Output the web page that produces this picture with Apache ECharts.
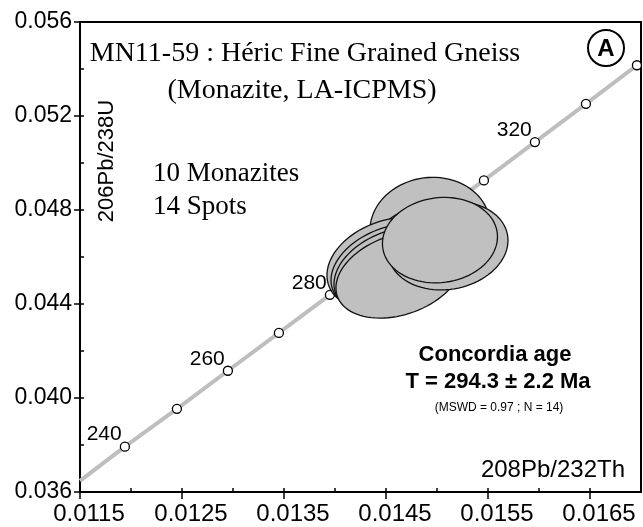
<!DOCTYPE html>
<html>
<head>
<meta charset="utf-8">
<title>Concordia</title>
<script src="https://cdn.jsdelivr.net/npm/echarts@6.0.0/dist/echarts.min.js"></script>
<style>
  html, body { margin: 0; padding: 0; background: #fff; }
  #chart { width: 643px; height: 527px; }
</style>
</head>
<body>
<div id="chart"></div>
<script>
// concordia age markers (Ma) and their positions
const ages = [240, 250, 260, 270, 280, 290, 300, 310, 320, 330, 340];
const ageX = [0.01194, 0.01245, 0.01295, 0.01345, 0.01395, 0.01445, 0.01495, 0.01546, 0.01596, 0.01646, 0.01696];
const ageY = [0.03793, 0.03954, 0.04116, 0.04277, 0.04439, 0.04601, 0.04764, 0.04926, 0.05089, 0.05252, 0.05416];
const ageLabels = ['240', '', '260', '', '280', '', '', '', '320', '', ''];

// concordia curve: left edge of the plot, then through the markers
const curveX = [0.0115].concat(ageX);
const curveY = [0.03647].concat(ageY);

// error ellipses (14 spots): centre, half-widths, correlation
const ellX   = [0.014931, 0.014882, 0.014735, 0.015029, 0.014637, 0.014833, 0.014588, 0.014931, 0.014539, 0.014569, 0.014598, 0.014627, 0.015108, 0.015029];
const ellY   = [0.047251, 0.046310, 0.045797, 0.046524, 0.045968, 0.046524, 0.045668, 0.046096, 0.045711, 0.045540, 0.045412, 0.045240, 0.046481, 0.046717];
const ellSx  = [0.000588, 0.000441, 0.000441, 0.000441, 0.000441, 0.000471, 0.000471, 0.000441, 0.000618, 0.000608, 0.000608, 0.000618, 0.000588, 0.000564];
const ellSy  = [0.002139, 0.001540, 0.001540, 0.001626, 0.001626, 0.001626, 0.001711, 0.001540, 0.001968, 0.001882, 0.001882, 0.001840, 0.001882, 0.001818];
const ellRho = [0.05, 0.15, 0.15, 0.15, 0.2, 0.15, 0.2, 0.15, 0.25, 0.28, 0.3, 0.3, 0.12, 0.08];

const chart = echarts.init(document.getElementById('chart'));

const markerData = ageX.map((x, i) => ({ value: [x, ageY[i]], label: { formatter: ageLabels[i] } }));
const curveData = curveX.map((x, i) => [x, curveY[i]]);
const ellData = ellX.map((x, i) => [x, ellY[i], ellSx[i], ellSy[i], ellRho[i]]);

const sans = '"Liberation Sans", Arial, sans-serif';
const serif = '"Liberation Serif", "Times New Roman", serif';

function renderEllipse(params, api) {
  const cx = api.value(0), cy = api.value(1);
  const sx = api.value(2), sy = api.value(3), rho = api.value(4);
  const k = Math.sqrt(1 - rho * rho);
  const pts = [];
  for (let j = 0; j < 90; j++) {
    const t = j / 90 * Math.PI * 2;
    pts.push(api.coord([cx + sx * Math.cos(t), cy + sy * (rho * Math.cos(t) + k * Math.sin(t))]));
  }
  return {
    type: 'polygon',
    shape: { points: pts },
    style: { fill: '#c0c0c0', stroke: '#111', lineWidth: 1.3 }
  };
}

const option = {
  animation: false,
  grid: { left: 80, right: 2, top: 22, bottom: 35, show: true, borderColor: '#000', borderWidth: 2 },
  xAxis: [
    {
      type: 'value', min: 0.0115, max: 0.017, interval: 0.001,
      axisLine: { lineStyle: { color: '#000', width: 2 } },
      axisTick: { length: 7, lineStyle: { color: '#000', width: 1.5 } },
      axisLabel: { color: '#000', fontFamily: sans, fontSize: 24, margin: 10, padding: [0, 0, 0, 18],
                   formatter: v => v.toFixed(4) },
      splitLine: { show: false }
    },
    {
      type: 'value', min: 0.0115, max: 0.017, interval: 0.0005, position: 'bottom',
      axisLine: { show: false },
      axisTick: { inside: true, length: 4, lineStyle: { color: '#000', width: 1.5 } },
      axisLabel: { show: false },
      splitLine: { show: false }
    }
  ],
  yAxis: [
    {
      type: 'value', min: 0.036, max: 0.056, interval: 0.004,
      axisLine: { lineStyle: { color: '#000', width: 2 } },
      axisTick: { length: 6, lineStyle: { color: '#000', width: 1.5 } },
      axisLabel: { color: '#000', fontFamily: sans, fontSize: 23, margin: 8,
                   formatter: v => v.toFixed(3) },
      splitLine: { show: false }
    },
    {
      type: 'value', min: 0.036, max: 0.056, interval: 0.002, position: 'left',
      axisLine: { show: false },
      axisTick: { inside: true, length: 4, lineStyle: { color: '#000', width: 1.5 } },
      axisLabel: { show: false },
      splitLine: { show: false }
    }
  ],
  series: [
    {
      type: 'line', data: curveData, z: 1, symbol: 'none', silent: true,
      lineStyle: { color: '#bebebe', width: 4 }
    },
    {
      type: 'scatter', data: markerData, z: 2, symbol: 'circle', symbolSize: 9,
      itemStyle: { color: '#fff', borderColor: '#000', borderWidth: 1.3, opacity: 1 },
      label: { show: true, position: 'left', distance: 0, offset: [2, -12],
               color: '#000', fontFamily: sans, fontSize: 21 }
    },
    {
      type: 'custom', data: ellData, z: 3, renderItem: renderEllipse,
      encode: { x: 0, y: 1 }
    }
  ],
  graphic: [
    { type: 'text', x: 305, y: 54, style: { text: 'MN11-59 : Héric Fine Grained Gneiss', font: '28px ' + serif, fill: '#000', align: 'center', verticalAlign: 'middle' } },
    { type: 'text', x: 302, y: 91, style: { text: '(Monazite, LA-ICPMS)', font: '28px ' + serif, fill: '#000', align: 'center', verticalAlign: 'middle' } },
    { type: 'text', x: 153, y: 174, style: { text: '10 Monazites', font: '27px ' + serif, fill: '#000', align: 'left', verticalAlign: 'middle' } },
    { type: 'text', x: 153, y: 207, style: { text: '14 Spots', font: '27px ' + serif, fill: '#000', align: 'left', verticalAlign: 'middle' } },
    { type: 'text', x: 107, y: 161, rotation: Math.PI / 2, style: { text: '206Pb/238U', font: '22px ' + sans, fill: '#000', align: 'center', verticalAlign: 'middle' } },
    { type: 'text', x: 625, y: 470, style: { text: '208Pb/232Th', font: '24px ' + sans, fill: '#000', align: 'right', verticalAlign: 'middle' } },
    { type: 'text', x: 495, y: 355, style: { text: 'Concordia age', font: 'bold 22px ' + sans, fill: '#000', align: 'center', verticalAlign: 'middle' } },
    { type: 'text', x: 498, y: 382, style: { text: 'T = 294.3 ± 2.2 Ma', font: 'bold 22px ' + sans, fill: '#000', align: 'center', verticalAlign: 'middle' } },
    { type: 'text', x: 499, y: 408, style: { text: '(MSWD = 0.97 ; N = 14)', font: '12px ' + sans, fill: '#000', align: 'center', verticalAlign: 'middle' } },
    { type: 'circle', shape: { cx: 606, cy: 48, r: 18 }, style: { fill: '#fff', stroke: '#000', lineWidth: 2 } },
    { type: 'text', x: 606, y: 49, style: { text: 'A', font: 'bold 24px ' + sans, fill: '#000', align: 'center', verticalAlign: 'middle' } }
  ]
};

chart.setOption(option);
</script>
</body>
</html>
